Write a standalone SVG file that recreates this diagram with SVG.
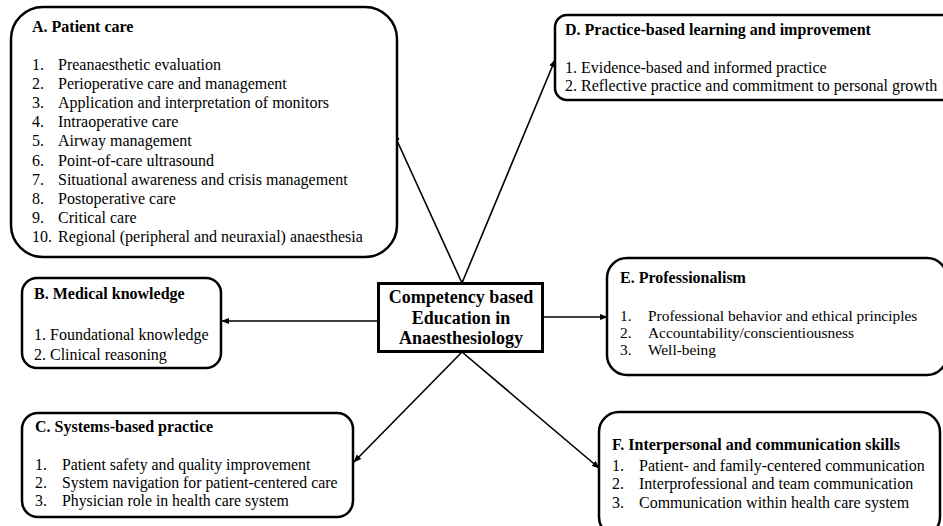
<svg xmlns="http://www.w3.org/2000/svg" width="943" height="526" viewBox="0 0 943 526" font-family="'Liberation Serif', 'Times New Roman', Times, 'DejaVu Serif', serif">
<style>
text{font-family:'Liberation Serif','Times New Roman',Times,'DejaVu Serif',serif;fill:#000}
.box{fill:#fff;stroke:#000;stroke-width:2.5}
.t{font-size:16px}
.s{font-size:15.4px}
.m{font-size:15.8px}
.b{font-weight:bold}
.c{font-size:18px;font-weight:bold;text-anchor:middle}
.con{stroke:#000;stroke-width:1.6;fill:none;marker-end:url(#ah)}
</style>
<defs>
<marker id="ah" viewBox="0 0 10 10" refX="9" refY="5" markerWidth="5" markerHeight="5" orient="auto" markerUnits="strokeWidth">
<path d="M0,1 L10,5 L0,9 z" fill="#000"/>
</marker>
</defs>
<rect width="943" height="526" fill="#fff"/>
<g id="connectors">
<line class="con" x1="462" y1="283" x2="394" y2="134"/>
<line class="con" x1="462" y1="283" x2="555" y2="60"/>
<line class="con" x1="378" y1="321" x2="222" y2="321"/>
<line class="con" x1="543" y1="317" x2="607" y2="317"/>
<line class="con" x1="462" y1="352" x2="354" y2="462"/>
<line class="con" x1="462" y1="352" x2="599" y2="468"/>
</g>
<g id="center">
<rect x="378.5" y="283.5" width="164" height="68" fill="#fff" stroke="#000" stroke-width="3"/>
<text class="c" x="461" y="303">Competency based</text>
<text class="c" x="461" y="324">Education in</text>
<text class="c" x="461" y="344">Anaesthesiology</text>
</g>
<g id="nodeA">
<rect class="box" x="11" y="7" width="386" height="250" rx="32"/>
<text class="t b" x="32" y="32">A.  Patient care</text>
<text class="t" x="32" y="70">1.</text><text class="t" x="58" y="70">Preanaesthetic evaluation</text>
<text class="t" x="32" y="89">2.</text><text class="t" x="58" y="89">Perioperative care and management</text>
<text class="t" x="32" y="108">3.</text><text class="t" x="58" y="108">Application and interpretation of monitors</text>
<text class="t" x="32" y="127">4.</text><text class="t" x="58" y="127">Intraoperative care</text>
<text class="t" x="32" y="146">5.</text><text class="t" x="58" y="146">Airway management</text>
<text class="t" x="32" y="166">6.</text><text class="t" x="58" y="166">Point-of-care ultrasound</text>
<text class="t" x="32" y="185">7.</text><text class="t" x="58" y="185">Situational awareness and crisis management</text>
<text class="t" x="32" y="204">8.</text><text class="t" x="58" y="204">Postoperative care</text>
<text class="t" x="32" y="223">9.</text><text class="t" x="58" y="223">Critical care</text>
<text class="t" x="32" y="242">10.</text><text class="t" x="58" y="242">Regional (peripheral and neuraxial) anaesthesia</text>
</g>
<g id="nodeD">
<rect class="box" x="555" y="15" width="400" height="85" rx="12"/>
<text class="t b" x="565" y="35">D. Practice-based learning and improvement</text>
<text class="t" x="565" y="73">1. Evidence-based and informed practice</text>
<text class="t" x="565" y="91">2. Reflective practice and commitment to personal growth</text>
</g>
<g id="nodeB">
<rect class="box" x="22" y="278" width="199" height="90" rx="15"/>
<text class="t b" x="34" y="299">B.  Medical knowledge</text>
<text class="t" x="34" y="340">1. Foundational knowledge</text>
<text class="t" x="34" y="360">2. Clinical reasoning</text>
</g>
<g id="nodeE">
<rect class="box" x="607" y="258" width="340" height="117" rx="20"/>
<text class="t b" x="620" y="283">E. Professionalism</text>
<text class="s" x="620" y="321">1.</text><text class="s" x="648" y="321">Professional behavior and ethical principles</text>
<text class="s" x="620" y="338">2.</text><text class="s" x="648" y="338">Accountability/conscientiousness</text>
<text class="s" x="620" y="355">3.</text><text class="s" x="648" y="355">Well-being</text>
</g>
<g id="nodeC">
<rect class="box" x="22" y="413" width="331" height="104" rx="16"/>
<text class="t b" x="35" y="432">C.  Systems-based practice</text>
<text class="m" x="35" y="470">1.</text><text class="m" x="62" y="470">Patient safety and quality improvement</text>
<text class="m" x="35" y="488">2.</text><text class="m" x="62" y="488">System navigation for patient-centered care</text>
<text class="m" x="35" y="506">3.</text><text class="m" x="62" y="506">Physician role in health care system</text>
</g>
<g id="nodeF">
<rect class="box" x="599" y="412" width="341" height="125" rx="20"/>
<text class="t b" x="612" y="450">F. Interpersonal and communication skills</text>
<text class="t" x="612" y="471">1.</text><text class="t" x="639" y="471">Patient- and family-centered communication</text>
<text class="t" x="612" y="489">2.</text><text class="t" x="639" y="489">Interprofessional and team communication</text>
<text class="t" x="612" y="508">3.</text><text class="t" x="639" y="508">Communication within health care system</text>
</g>
</svg>
